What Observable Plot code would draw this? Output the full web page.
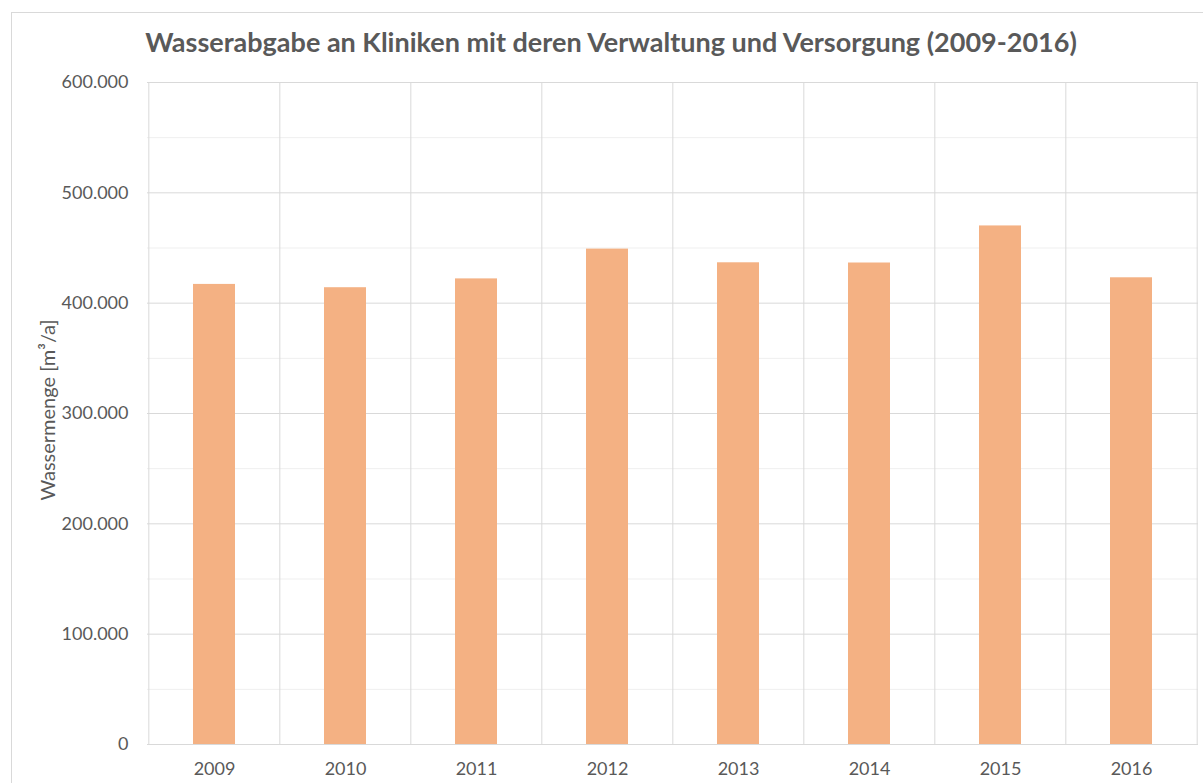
<!DOCTYPE html>
<html>
<head>
<meta charset="utf-8">
<script src="https://cdn.jsdelivr.net/npm/d3@7"></script>
<script src="https://cdn.jsdelivr.net/npm/@observablehq/plot@0.6"></script>
<style>
  html, body { margin: 0; padding: 0; background: #fff; }
  #wrap { position: relative; width: 1203px; height: 783px; overflow: hidden; font-family: Lato, "Open Sans", sans-serif; }
  #border { position: absolute; left: 11px; top: 12px; width: 1200px; height: 790px; border: 1px solid #d9d9d9; box-sizing: border-box; }
  #title { position: absolute; left: 0; top: 0; width: 1222px; height: 62px; text-align: center; line-height: 84px;
           font-weight: bold; font-size: 27px; color: #595959; white-space: nowrap; }
  #chart { position: absolute; left: 0; top: 62px; }
  #ylab { position: absolute; left: 47px; top: 410px; transform: translate(-50%, -50%) rotate(-90deg);
          font-size: 20px; color: #595959; white-space: nowrap; }
</style>
</head>
<body>
<div id="wrap">
  <div id="border"></div>
  <div id="title">Wasserabgabe an Kliniken mit deren Verwaltung und Versorgung (2009-2016)</div>
  <div id="chart"></div>
  <div id="ylab">Wassermenge [m³/a]</div>
</div>
<script>
const years = ["2009", "2010", "2011", "2012", "2013", "2014", "2015", "2016"];
const values = [417000, 414000, 422000, 449000, 436600, 436400, 470000, 423000];
const majorTicks = [0, 100000, 200000, 300000, 400000, 500000, 600000];
const minorTicks = [50000, 150000, 250000, 350000, 450000, 550000];

const data = years.map((y, i) => ({year: y, value: values[i]}));
const fmt = d3.formatLocale({decimal: ",", thousands: ".", grouping: [3], currency: ["", " €"]}).format(",d");

const W = 1203, H = 721, mL = 147, mR = 5, mT = 20, mB = 39;
const step = (W - mL - mR) / years.length;

const chart = Plot.plot({
  width: W,
  height: H,
  marginLeft: mL,
  marginRight: mR,
  marginTop: mT,
  marginBottom: mB,
  style: {fontFamily: "Lato, 'Open Sans', sans-serif", fontSize: "18px", color: "#595959", background: "transparent"},
  x: {domain: years, type: "band", paddingInner: 0.68, paddingOuter: 0.34, label: null, tickSize: 0, tickPadding: 18},
  y: {domain: [0, 600000], ticks: majorTicks, tickFormat: fmt, label: null, tickSize: 0, tickPadding: 19},
  marks: [
    Plot.ruleY(minorTicks, {stroke: "#efefef", strokeWidth: 1}),
    Plot.ruleY(majorTicks, {stroke: "#d9d9d9", strokeWidth: 1}),
    Plot.ruleX(years, {x: d => d, dx: -step / 2, stroke: "#d9d9d9", strokeWidth: 1}),
    Plot.ruleX([years[years.length - 1]], {x: d => d, dx: step / 2, stroke: "#d9d9d9", strokeWidth: 1}),
    Plot.barY(data, {x: "year", y: "value", fill: "#f4b183"})
  ]
});
document.getElementById("chart").appendChild(chart);
</script>
</body>
</html>
